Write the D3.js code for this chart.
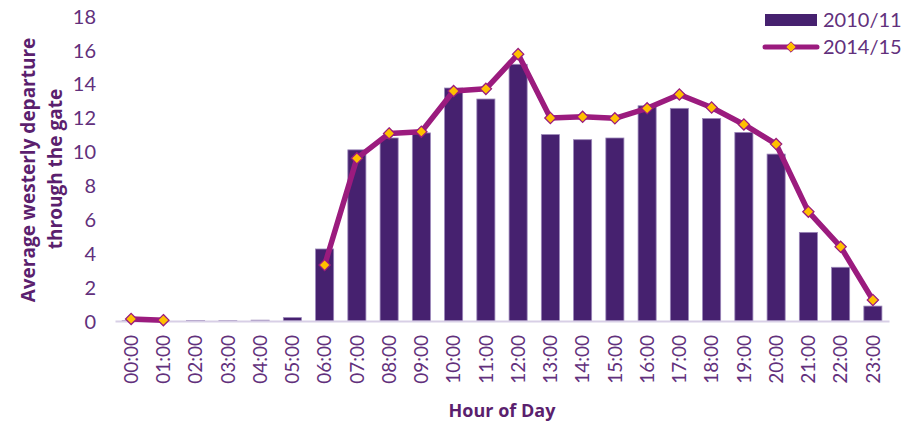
<!DOCTYPE html>
<html>
<head>
<meta charset="utf-8">
<script src="https://cdn.jsdelivr.net/npm/d3@7"></script>
<style>
  body { margin: 0; background: #fff; }
  text { font-family: "Open Sans", sans-serif; fill: #5b1f6e; }
  .tick text, .legend text { font-family: Lato, "Open Sans", sans-serif; font-weight: 400; }
</style>
</head>
<body>
<div id="chart"></div>
<script>
const width = 924;
const height = 424;
const margin = {left: 115, right: 35, top: 16, bottom: 103};

const hours = ["00:00","01:00","02:00","03:00","04:00","05:00","06:00","07:00","08:00","09:00","10:00","11:00",
               "12:00","13:00","14:00","15:00","16:00","17:00","18:00","19:00","20:00","21:00","22:00","23:00"];
const values2010 = [0.02, 0, 0.03, 0.02, 0.05, 0.2, 4.25, 10.1, 10.8, 11.1, 13.75, 13.1,
                    15.15, 11.0, 10.7, 10.8, 12.7, 12.55, 11.95, 11.13, 9.85, 5.23, 3.17, 0.88];
const values2014 = [0.12, 0.05, null, null, null, null, 3.3, 9.6, 11.07, 11.17, 13.57, 13.7,
                    15.75, 11.98, 12.05, 11.96, 12.55, 13.37, 12.6, 11.6, 10.44, 6.45, 4.38, 1.24];
const yTicks = [0, 2, 4, 6, 8, 10, 12, 14, 16, 18];
const seriesNames = ["2010/11", "2014/15"];

const barColor = "#46216f";
const lineColor = "#9b1b7e";
const markerColor = "#ffc000";
const tickColor = "#62307c";

const svg = d3.select("#chart")
    .append("svg")
    .attr("width", width)
    .attr("height", height);

const x = d3.scaleBand()
    .domain(hours)
    .range([margin.left, width - margin.right])
    .paddingInner(0.44)
    .paddingOuter(0.22);

const y = d3.scaleLinear()
    .domain([0, 18])
    .range([height - margin.bottom, margin.top]);

// y axis labels
const yAxis = d3.axisLeft(y).tickValues(yTicks).tickSize(0).tickPadding(0);
svg.append("g")
    .attr("transform", "translate(96,0)")
    .call(yAxis)
    .call(g => g.select(".domain").remove())
    .call(g => g.selectAll("text")
        .attr("font-size", "20px")
        .attr("dy", "0.36em")
        .style("fill", tickColor));

// bars
svg.append("g")
    .selectAll("rect")
    .data(hours)
    .join("rect")
      .attr("x", d => x(d))
      .attr("width", x.bandwidth())
      .attr("y", (d, i) => y(values2010[i]))
      .attr("height", (d, i) => y(0) - y(values2010[i]))
      .attr("fill", barColor)
      .attr("stroke", "#9a86b8")
      .attr("stroke-width", 0.8);

// x axis
const xAxis = d3.axisBottom(x).tickSize(0).tickPadding(0);
svg.append("g")
    .attr("transform", `translate(0,${y(0)})`)
    .call(xAxis)
    .call(g => g.select(".domain")
        .attr("stroke", "#d8cfe6")
        .attr("stroke-width", 2))
    .call(g => g.selectAll("text")
        .attr("font-size", "19px")
        .attr("transform", "rotate(-90)")
        .attr("text-anchor", "end")
        .attr("x", -14)
        .attr("y", 0)
        .attr("dy", "0.36em")
        .style("fill", tickColor));

// line
const cx = d => x(d) + x.bandwidth() / 2;
const line = d3.line()
    .defined((d, i) => values2014[i] !== null)
    .x(d => cx(d))
    .y((d, i) => y(values2014[i]));

svg.append("path")
    .datum(hours)
    .attr("d", line)
    .attr("fill", "none")
    .attr("stroke", lineColor)
    .attr("stroke-width", 5.5)
    .attr("stroke-linejoin", "round");

const diamond = d3.symbol().type(d3.symbolDiamond2).size(80);
svg.append("g")
    .selectAll("path")
    .data(hours.filter((d, i) => values2014[i] !== null))
    .join("path")
      .attr("d", diamond)
      .attr("transform", d => `translate(${cx(d)},${y(values2014[hours.indexOf(d)])})`)
      .attr("fill", markerColor)
      .attr("stroke", lineColor)
      .attr("stroke-width", 1.3);

// axis titles
svg.append("text")
    .attr("transform", "translate(28,170) rotate(-90)")
    .attr("text-anchor", "middle")
    .attr("dy", "0.36em")
    .attr("font-size", "19px")
    .attr("font-weight", "bold")
    .text("Average westerly departure");
svg.append("text")
    .attr("transform", "translate(55,169) rotate(-90)")
    .attr("text-anchor", "middle")
    .attr("dy", "0.36em")
    .attr("font-size", "19px")
    .attr("font-weight", "bold")
    .text("through the gate");

svg.append("text")
    .attr("x", 502)
    .attr("y", 417)
    .attr("text-anchor", "middle")
    .attr("font-size", "18px")
    .attr("font-weight", "bold")
    .text("Hour of Day");

// legend
const legend = svg.append("g").attr("class", "legend");
legend.append("rect")
    .attr("x", 765).attr("y", 14)
    .attr("width", 52).attr("height", 12)
    .attr("fill", barColor);
legend.append("text")
    .attr("x", 823).attr("y", 26.5)
    .attr("font-size", "20px")
    .style("fill", tickColor)
    .text(seriesNames[0]);
legend.append("line")
    .attr("x1", 765).attr("x2", 817)
    .attr("y1", 47).attr("y2", 47)
    .attr("stroke", lineColor)
    .attr("stroke-width", 5)
    .attr("stroke-linecap", "round");
legend.append("path")
    .attr("d", d3.symbol().type(d3.symbolDiamond2).size(70))
    .attr("transform", "translate(791,47)")
    .attr("fill", markerColor)
    .attr("stroke", lineColor)
    .attr("stroke-width", 1);
legend.append("text")
    .attr("x", 823).attr("y", 54)
    .attr("font-size", "20px")
    .style("fill", tickColor)
    .text(seriesNames[1]);
</script>
</body>
</html>
